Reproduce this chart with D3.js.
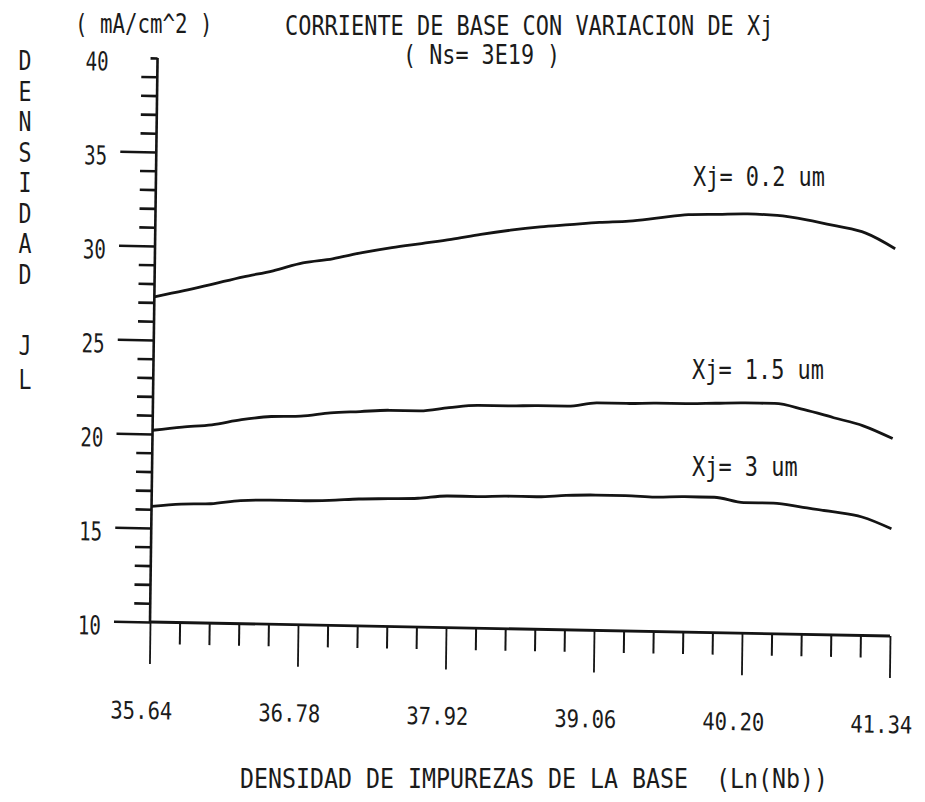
<!DOCTYPE html>
<html>
<head>
<meta charset="utf-8">
<script src="https://cdn.jsdelivr.net/npm/d3@7"></script>
<style>
  html, body { margin: 0; padding: 0; background: #ffffff; }
  svg text { font-family: "DejaVu Sans Mono", "Liberation Mono", monospace; fill: #1b1b1b; white-space: pre; }
</style>
</head>
<body>
<svg id="chart" width="925" height="802"></svg>
<script>
// Base impurity density, Ln(Nb)
const nb = [35.64, 35.868, 36.096, 36.324, 36.552, 36.78, 37.008, 37.236, 37.464, 37.692,
            37.92, 38.148, 38.376, 38.604, 38.832, 39.06, 39.288, 39.516, 39.744, 39.972,
            40.20, 40.428, 40.656, 40.884, 41.112, 41.34];

// Base current density JL (mA/cm^2) for each junction depth
const jlXj02 = [27.3, 27.65, 28.05, 28.45, 28.8, 29.25, 29.5, 29.85, 30.15, 30.4,
                30.65, 30.95, 31.2, 31.4, 31.55, 31.7, 31.8, 32.0, 32.2, 32.25,
                32.3, 32.25, 32.05, 31.75, 31.4, 30.6];
const jlXj15 = [20.2, 20.4, 20.55, 20.85, 21.05, 21.1, 21.3, 21.4, 21.5, 21.5,
                21.7, 21.85, 21.85, 21.9, 21.9, 22.1, 22.1, 22.15, 22.15, 22.2,
                22.25, 22.25, 21.95, 21.55, 21.15, 20.5];
const jlXj30 = [16.15, 16.3, 16.35, 16.55, 16.6, 16.6, 16.65, 16.75, 16.8, 16.85,
                17.0, 17.0, 17.05, 17.05, 17.15, 17.2, 17.2, 17.15, 17.2, 17.2,
                16.95, 16.95, 16.75, 16.55, 16.3, 15.7];

const seriesLabels = ["Xj= 0.2 um", "Xj= 1.5 um", "Xj= 3 um"];

const xTickValues = [35.64, 36.78, 37.92, 39.06, 40.20, 41.34];
const xTickLabels = ["35.64", "36.78", "37.92", "39.06", "40.20", "41.34"];
const yTickValues = [10, 15, 20, 25, 30, 35, 40];
const yTickLabels = ["10", "15", "20", "25", "30", "35", "40"];

const titleText = "CORRIENTE DE BASE CON VARIACION DE Xj";
const subtitleText = "( Ns= 3E19 )";
const unitText = "( mA/cm^2 )";
const yTitleWords = ["DENSIDAD", "JL"];
const xTitleText = "DENSIDAD DE IMPUREZAS DE LA BASE  (Ln(Nb))";

// ---------------------------------------------------------------
const svg = d3.select("#chart");
const ink = "#141414";
const fontSize = 26;

// plot frame (origin at the lower-left corner of the axes)
const ox = 150, oy = 622;
const x = d3.scaleLinear().domain([35.64, 41.34]).range([ox, 890]);
const y = d3.scaleLinear().domain([10, 40]).range([oy, 58]);

// helper: condensed printer-style text
function label(parent, str, px, py, pitch, anchor) {
  return parent.append("text")
    .attr("x", px).attr("y", py)
    .attr("font-size", fontSize)
    .attr("text-anchor", anchor || "start")
    .attr("textLength", str.length * pitch)
    .attr("lengthAdjust", "spacingAndGlyphs")
    .text(str);
}

// the plotted sheet sits slightly skewed on the page
const skewB = 0.0189, skewC = -0.0134;
const plot = svg.append("g")
  .attr("transform", `matrix(1,${skewB},${skewC},1,${-skewC * oy},${-skewB * ox})`);

// minor ticks
const yMinor = d3.range(11, 40).filter(v => v % 5 !== 0);
const xMinor = [];
for (let i = 0; i < xTickValues.length - 1; i++) {
  const a = xTickValues[i], b = xTickValues[i + 1];
  for (let k = 1; k < 5; k++) xMinor.push(a + (b - a) * k / 5);
}

// y axis: major + minor ticks
const yAxisMajor = d3.axisLeft(y).tickValues(yTickValues).tickSize(36).tickPadding(13)
  .tickSizeOuter(0).tickFormat((d, i) => yTickLabels[i]);
const gy = plot.append("g").attr("transform", `translate(${ox},0)`).call(yAxisMajor);
gy.select(".domain").remove();
gy.selectAll(".tick line").attr("stroke", ink).attr("stroke-width", 2.6)
  .filter(d => d === 40).attr("x2", -7);
gy.selectAll(".tick text")
  .attr("font-size", fontSize).attr("font-family", null).attr("fill", ink)
  .attr("dy", "0.5em")
  .attr("textLength", d => String(d).length * 11.5)
  .attr("lengthAdjust", "spacingAndGlyphs");
gy.attr("font-family", null).attr("font-size", null);

const gyMinor = plot.append("g").attr("transform", `translate(${ox},0)`)
  .call(d3.axisLeft(y).tickValues(yMinor).tickSize(16).tickSizeOuter(0).tickFormat(""));
gyMinor.select(".domain").remove();
gyMinor.selectAll(".tick line").attr("stroke", ink).attr("stroke-width", 2.6);

// x axis: major + minor ticks
const xAxisMajor = d3.axisBottom(x).tickValues(xTickValues).tickSize(42).tickPadding(38)
  .tickSizeOuter(0).tickFormat((d, i) => xTickLabels[i]);
const gx = plot.append("g").attr("transform", `translate(0,${oy})`).call(xAxisMajor);
gx.select(".domain").remove();
gx.selectAll(".tick line").attr("stroke", ink).attr("stroke-width", 1.8);
gx.selectAll(".tick text")
  .attr("font-size", 24).attr("font-family", null).attr("fill", ink)
  .attr("dx", -8)
  .attr("textLength", (d, i) => xTickLabels[i].length * 12.4)
  .attr("lengthAdjust", "spacingAndGlyphs");
gx.attr("font-family", null).attr("font-size", null);

const gxMinor = plot.append("g").attr("transform", `translate(0,${oy})`)
  .call(d3.axisBottom(x).tickValues(xMinor).tickSize(22).tickSizeOuter(0).tickFormat(""));
gxMinor.select(".domain").remove();
gxMinor.selectAll(".tick line").attr("stroke", ink).attr("stroke-width", 2);

// axis lines
plot.append("line")
  .attr("x1", ox).attr("x2", ox).attr("y1", y(40)).attr("y2", oy)
  .attr("stroke", ink).attr("stroke-width", 2.6);
plot.append("line")
  .attr("x1", ox).attr("x2", x(41.34)).attr("y1", oy).attr("y2", oy)
  .attr("stroke", ink).attr("stroke-width", 2.8);

// curves
const line = d3.line()
  .x((d, i) => x(nb[i]))
  .y(d => y(d))
  .curve(d3.curveMonotoneX);

[jlXj02, jlXj15, jlXj30].forEach(series => {
  plot.append("path")
    .datum(series)
    .attr("d", line)
    .attr("fill", "none")
    .attr("stroke", ink)
    .attr("stroke-width", 2.8)
    .attr("stroke-linejoin", "round");
});

// curve labels
const curveLabelPos = [[693, 186], [692, 379], [692, 476]];
seriesLabels.forEach((s, i) => label(svg, s, curveLabelPos[i][0], curveLabelPos[i][1], 13.2));

// titles
label(svg, titleText, 285, 35, 13.2);
label(svg, subtitleText, 403, 64, 13.1);
label(svg, unitText, 75, 33, 12.5);
label(svg, xTitleText, 240, 788, 14.0);

// vertical y-axis title, one letter per line
const letterTops = [];
yTitleWords[0].split("").forEach((ch, i) => letterTops.push([ch, 70 + i * 30.5]));
yTitleWords[1].split("").forEach((ch, i) => letterTops.push([ch, 355 + i * 34]));
letterTops.forEach(([ch, by]) => label(svg, ch, 25, by, 13, "middle"));
</script>
</body>
</html>
